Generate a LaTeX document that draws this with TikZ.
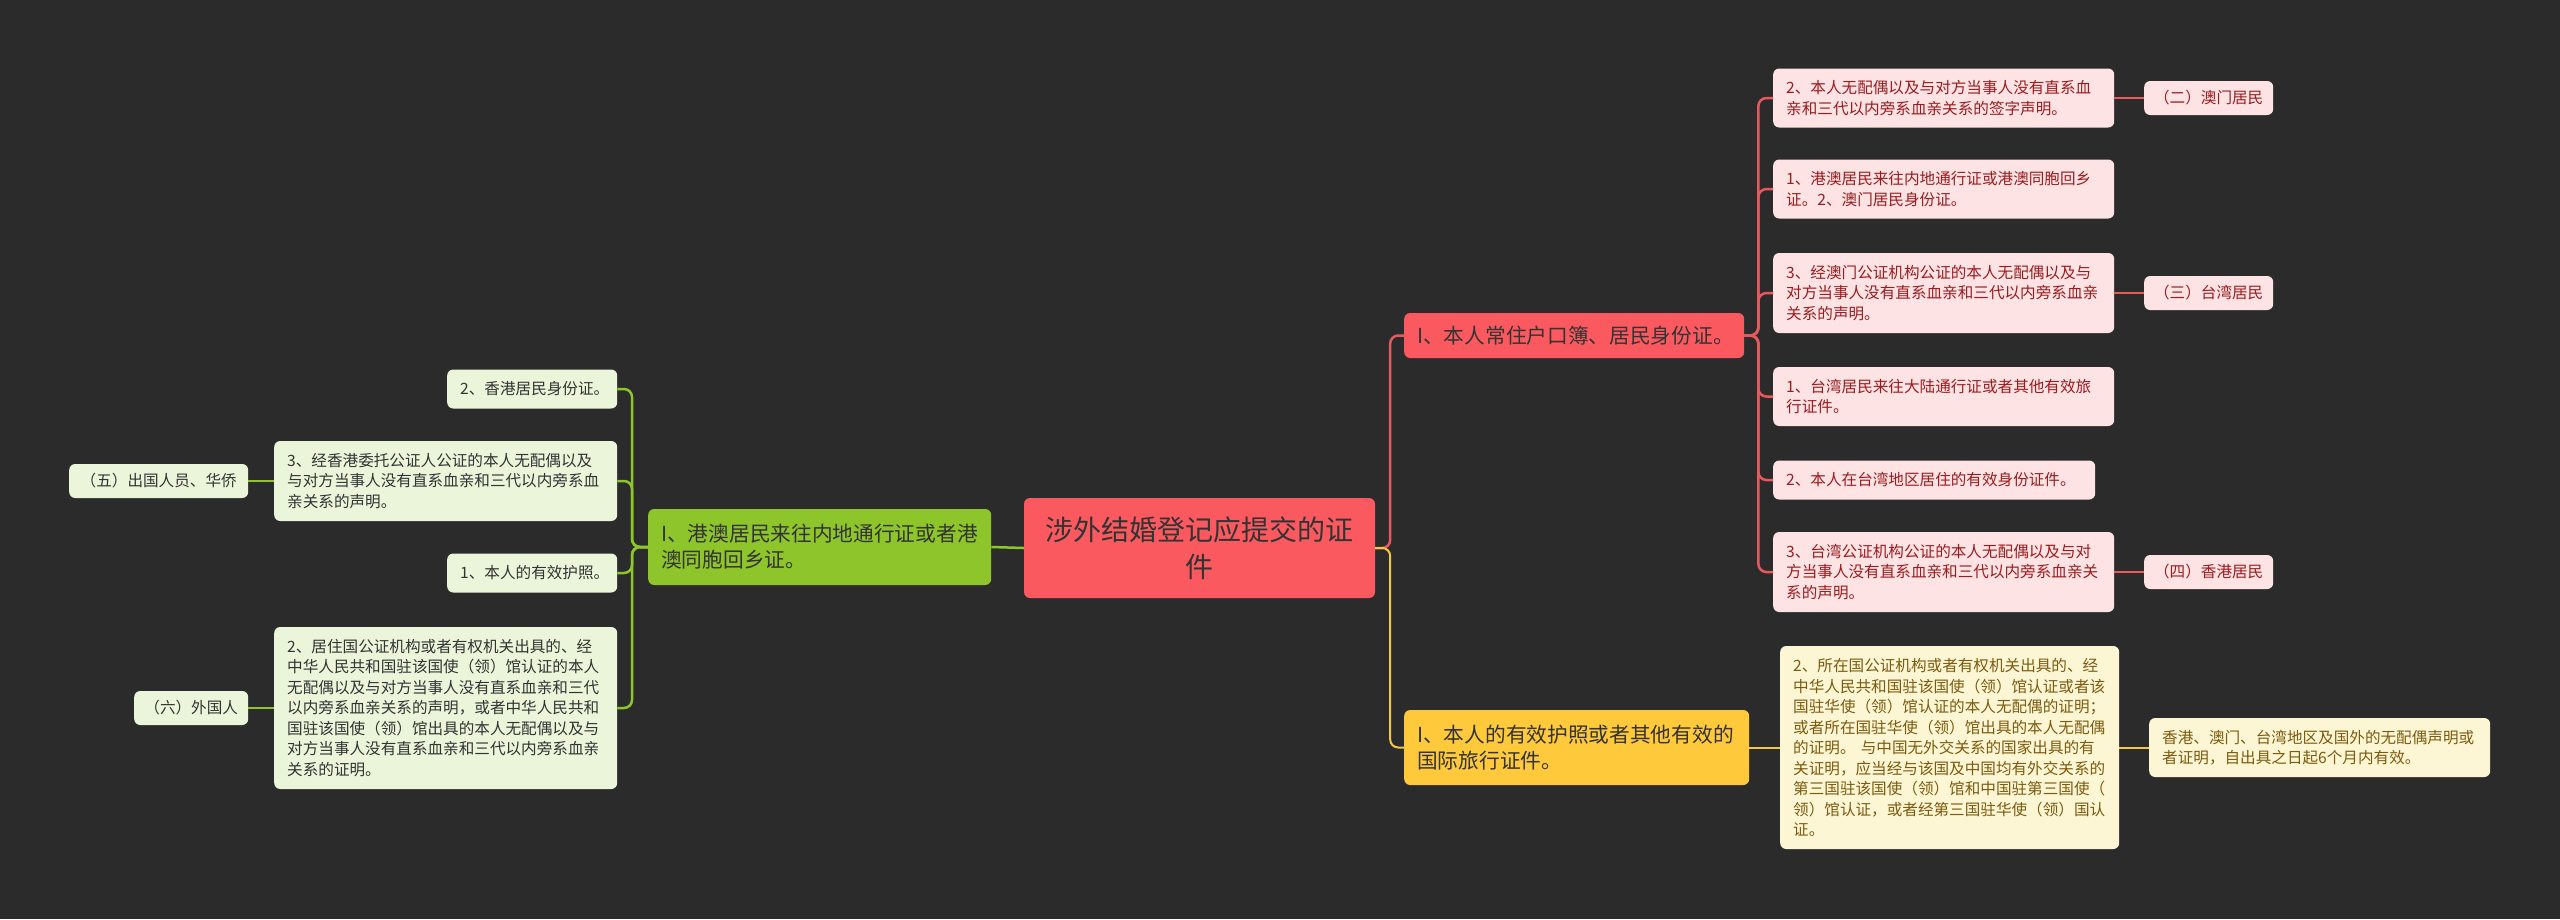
\documentclass[tikz,border=0pt]{standalone}
\usepackage{fontspec}
\setmainfont{Noto Sans CJK SC}
\definecolor{bg}{HTML}{2B2B2B}
\definecolor{redfill}{HTML}{FA5A5F}
\definecolor{redline}{HTML}{E8585C}
\definecolor{redleaf}{HTML}{FDE3E3}
\definecolor{redtext}{HTML}{9A1C20}
\definecolor{yelfill}{HTML}{FFC93C}
\definecolor{yelline}{HTML}{F2C940}
\definecolor{yelleaf}{HTML}{FDF6D5}
\definecolor{yeltext}{HTML}{7B5B0E}
\definecolor{grnfill}{HTML}{8DC52B}
\definecolor{grnleaf}{HTML}{EBF5DA}
\definecolor{darktext}{HTML}{333333}
\begin{document}
\begin{tikzpicture}[x=1pt,y=-1pt,
  basebox/.style={rounded corners=6pt, inner ysep=0pt, anchor=west},
  central/.style={basebox, anchor=center, fill=redfill, text=darktext, align=center, inner xsep=16pt,
    font=\fontsize{28}{37}\selectfont},
  branch/.style={basebox, inner xsep=13pt, align=left, text=darktext, font=\fontsize{20.7}{26}\selectfont},
  leaf/.style={basebox, inner xsep=13pt, align=left, font=\fontsize{15.6}{20.5}\selectfont},
  rleaf/.style={leaf, fill=redleaf, text=redtext},
  yleaf/.style={leaf, fill=yelleaf, text=yeltext},
  gleaf/.style={leaf, fill=grnleaf, text=darktext},
  tag/.style={leaf, inner xsep=8pt, align=center, minimum height=34pt},
  redln/.style={draw=redline, line width=2.5pt, rounded corners=8pt},
  yelln/.style={draw=yelline, line width=2pt, rounded corners=8pt},
  grnln/.style={draw=grnfill, line width=2.5pt, rounded corners=8pt}
]
\fill[bg] (0,0) rectangle (2560,919);
\useasboundingbox (0,0) rectangle (2560,919);

% central
\node[central, text width=319pt, minimum height=100pt] (c) at (1199.5,548) {涉外结婚登记应提交的证\\件};

% branches
\node[branch, fill=redfill, text width=314pt, minimum height=45pt] (rb) at (1404,335.5) {I、本人常住户口簿、居民身份证。};
\node[branch, fill=yelfill, text width=319pt, minimum height=75pt] (yb) at (1404,747.5) {I、本人的有效护照或者其他有效的\\国际旅行证件。};
\node[branch, fill=grnfill, text width=317pt, minimum height=76pt] (gb) at (648,547) {I、港澳居民来往内地通行证或者港\\澳同胞回乡证。};

% red leaves
\node[rleaf, text width=315pt, minimum height=59pt] (r1) at (1773,98) {2、本人无配偶以及与对方当事人没有直系血\\亲和三代以内旁系血亲关系的签字声明。};
\node[rleaf, text width=315pt, minimum height=59pt] (r2) at (1773,189) {1、港澳居民来往内地通行证或港澳同胞回乡\\证。2、澳门居民身份证。};
\node[rleaf, text width=315pt, minimum height=80pt] (r3) at (1773,293) {3、经澳门公证机构公证的本人无配偶以及与\\对方当事人没有直系血亲和三代以内旁系血亲\\关系的声明。};
\node[rleaf, text width=315pt, minimum height=59pt] (r4) at (1773,396.5) {1、台湾居民来往大陆通行证或者其他有效旅\\行证件。};
\node[rleaf, text width=296pt, minimum height=39pt] (r5) at (1773,480) {2、本人在台湾地区居住的有效身份证件。};
\node[rleaf, text width=315pt, minimum height=80pt] (r6) at (1773,572) {3、台湾公证机构公证的本人无配偶以及与对\\方当事人没有直系血亲和三代以内旁系血亲关\\系的声明。};

% red tags
\node[tag, fill=redleaf, text=redtext, text width=113pt] (t2) at (2144,98) {（二）澳门居民};
\node[tag, fill=redleaf, text=redtext, text width=113pt] (t3) at (2144,293) {（三）台湾居民};
\node[tag, fill=redleaf, text=redtext, text width=113pt] (t4) at (2144,572) {（四）香港居民};

% yellow leaves
\node[yleaf, text width=313pt, minimum height=203pt] (y1) at (1780,747.5) {2、所在国公证机构或者有权机关出具的、经\\中华人民共和国驻该国使（领）馆认证或者该\\国驻华使（领）馆认证的本人无配偶的证明；\\或者所在国驻华使（领）馆出具的本人无配偶\\的证明。 与中国无外交关系的国家出具的有\\关证明，应当经与该国及中国均有外交关系的\\第三国驻该国使（领）馆和中国驻第三国使（\\领）馆认证，或者经第三国驻华使（领）国认\\证。};
\node[yleaf, text width=315pt, minimum height=59pt] (y2) at (2149,747.5) {香港、澳门、台湾地区及国外的无配偶声明或\\者证明，自出具之日起6个月内有效。};

% green leaves
\node[gleaf, text width=144pt, minimum height=39pt] (g1) at (447,389) {2、香港居民身份证。};
\node[gleaf, text width=317pt, minimum height=80pt] (g2) at (274,481) {3、经香港委托公证人公证的本人无配偶以及\\与对方当事人没有直系血亲和三代以内旁系血\\亲关系的声明。};
\node[gleaf, text width=144pt, minimum height=39pt] (g3) at (447,573) {1、本人的有效护照。};
\node[gleaf, text width=317pt, minimum height=162pt] (g4) at (274,708) {2、居住国公证机构或者有权机关出具的、经\\中华人民共和国驻该国使（领）馆认证的本人\\无配偶以及与对方当事人没有直系血亲和三代\\以内旁系血亲关系的声明，或者中华人民共和\\国驻该国使（领）馆出具的本人无配偶以及与\\对方当事人没有直系血亲和三代以内旁系血亲\\关系的证明。};
\node[tag, fill=grnleaf, text=darktext, text width=163pt] (l5) at (69,481) {（五）出国人员、华侨};
\node[tag, fill=grnleaf, text=darktext, text width=98pt] (l6) at (134,708) {（六）外国人};

% connectors
\draw[redln] (c.east) -- ++(15,0) |- (rb.west);
\draw[yelln] (c.east) -- ++(15,0) |- (yb.west);
\draw[grnln] (c.west) -- (gb.east);
\foreach \n in {r1,r2,r3,r4,r5,r6} \draw[redln] (rb.east) -- ++(14,0) |- (\n.west);
\draw[redln] (r1.east) -- (t2.west);
\draw[redln] (r3.east) -- (t3.west);
\draw[redln] (r6.east) -- (t4.west);
\draw[yelln] (yb.east) -- (y1.west);
\draw[yelln] (y1.east) -- (y2.west);
\foreach \n in {g1,g2,g3,g4} \draw[grnln] (gb.west) -- ++(-16,0) |- (\n.east);
\draw[grnln] (g2.west) -- (l5.east);
\draw[grnln] (g4.west) -- (l6.east);
\end{tikzpicture}
\end{document}
